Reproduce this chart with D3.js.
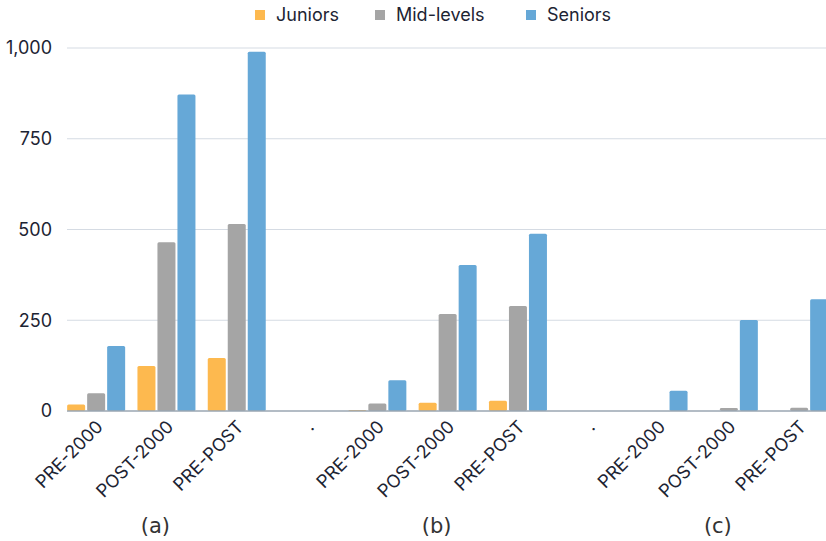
<!DOCTYPE html>
<html>
<head>
<meta charset="utf-8">
<script src="https://cdn.jsdelivr.net/npm/d3@7"></script>
<style>
  body { margin: 0; background: #fff; }
  text { font-family: Inter, "Open Sans", sans-serif; }
</style>
</head>
<body>
<script>
// data
var categories = ["PRE-2000", "POST-2000", "PRE-POST", ".", "PRE-2000", "POST-2000", "PRE-POST", ".", "PRE-2000", "POST-2000", "PRE-POST"];
var seriesNames = ["Juniors", "Mid-levels", "Seniors"];
var juniors   = [18, 124, 146, 0, 3, 23, 28, 0, 0, 0, 0];
var midLevels = [49, 465, 515, 0, 21, 267, 289, 0, 0, 8, 9];
var seniors   = [179, 872, 990, 0, 85, 402, 488, 0, 56, 251, 308];
var yTicks = [0, 250, 500, 750, 1000];
var panels = ["(a)", "(b)", "(c)"];
var panelAt = [1, 5, 9]; // category index under which each caption sits

var colors = ["#FDB94F", "#A5A5A5", "#66A8D7"];

var width = 826, height = 541;

var svg = d3.select("body").append("svg")
    .attr("width", width)
    .attr("height", height);

//scales
var x = d3.scaleBand()
    .domain(d3.range(categories.length))
    .range([61, 61 + categories.length * 70.3])
    .paddingInner(0.175)
    .paddingOuter(0.0875);

var xs = d3.scaleBand()
    .domain(seriesNames)
    .range([0, x.bandwidth()])
    .paddingInner(0.1);

var y = d3.scaleLinear().domain([0, 1000]).range([411, 48]);

//gridlines
svg.append("g").selectAll("line")
    .data(yTicks.filter(function(d){ return d > 0; }))
    .enter().append("line")
    .attr("x1", 67).attr("x2", width)
    .attr("y1", function(d){ return y(d); })
    .attr("y2", function(d){ return y(d); })
    .attr("stroke", "#d5dbe3")
    .attr("stroke-width", 1);

//y axis labels
var yAxis = svg.append("g")
    .attr("transform", "translate(67,0)")
    .call(d3.axisLeft(y).tickValues(yTicks).tickSize(0).tickPadding(15).tickFormat(d3.format(",")));
yAxis.select(".domain").remove();
yAxis.selectAll("text")
    .attr("font-size", 18)
    .attr("fill", "#1d2433")
    .style("font-family", "Inter, 'Open Sans', sans-serif");

//bars
var rows = categories.map(function(c, i){
    return [juniors[i], midLevels[i], seniors[i]];
});

var groups = svg.append("g").selectAll("g")
    .data(rows)
    .enter().append("g")
    .attr("transform", function(d, i){ return "translate(" + x(i) + ",0)"; });

groups.selectAll("rect")
    .data(function(d){
        return d.map(function(v, k){ return {name: seriesNames[k], value: v, k: k}; })
            .filter(function(e){ return e.value > 0; });
    })
    .enter().append("rect")
    .attr("x", function(d){ return xs(d.name); })
    .attr("width", xs.bandwidth())
    .attr("y", function(d){ return y(d.value); })
    .attr("height", function(d){ return y(0) - y(d.value); })
    .attr("rx", 1.5)
    .attr("fill", function(d){ return colors[d.k]; });

//baseline
svg.append("line")
    .attr("x1", 67).attr("x2", width)
    .attr("y1", y(0)).attr("y2", y(0))
    .attr("stroke", "#9aa6b2")
    .attr("stroke-width", 1.5);

//x labels rotated
svg.append("g").selectAll("text")
    .data(categories)
    .enter().append("text")
    .attr("transform", function(d, i){
        var cx = x(i) + x.bandwidth() / 2 + 8;
        return "translate(" + cx + ",428) rotate(-45)";
    })
    .attr("text-anchor", "end")
    .attr("font-size", 18)
    .attr("fill", "#1d2433")
    .text(function(d){ return d; });

//panel captions
svg.append("g").selectAll("text")
    .data(panels)
    .enter().append("text")
    .attr("x", function(d, i){ return x(panelAt[i]) + x.bandwidth() / 2 - 11; })
    .attr("y", 533)
    .attr("text-anchor", "middle")
    .attr("font-size", 21)
    .attr("fill", "#333")
    .style("font-family", "'DejaVu Sans', sans-serif")
    .text(function(d){ return d; });

//legend
var legendX = [255, 375, 526];
var legend = svg.append("g").selectAll("g")
    .data(seriesNames)
    .enter().append("g")
    .attr("transform", function(d, i){ return "translate(" + legendX[i] + ",10)"; });
legend.append("rect")
    .attr("width", 10).attr("height", 10)
    .attr("fill", function(d, i){ return colors[i]; });
legend.append("text")
    .attr("x", 21).attr("y", 11)
    .attr("font-size", 18)
    .attr("fill", "#1d2433")
    .text(function(d){ return d; });
</script>
</body>
</html>
